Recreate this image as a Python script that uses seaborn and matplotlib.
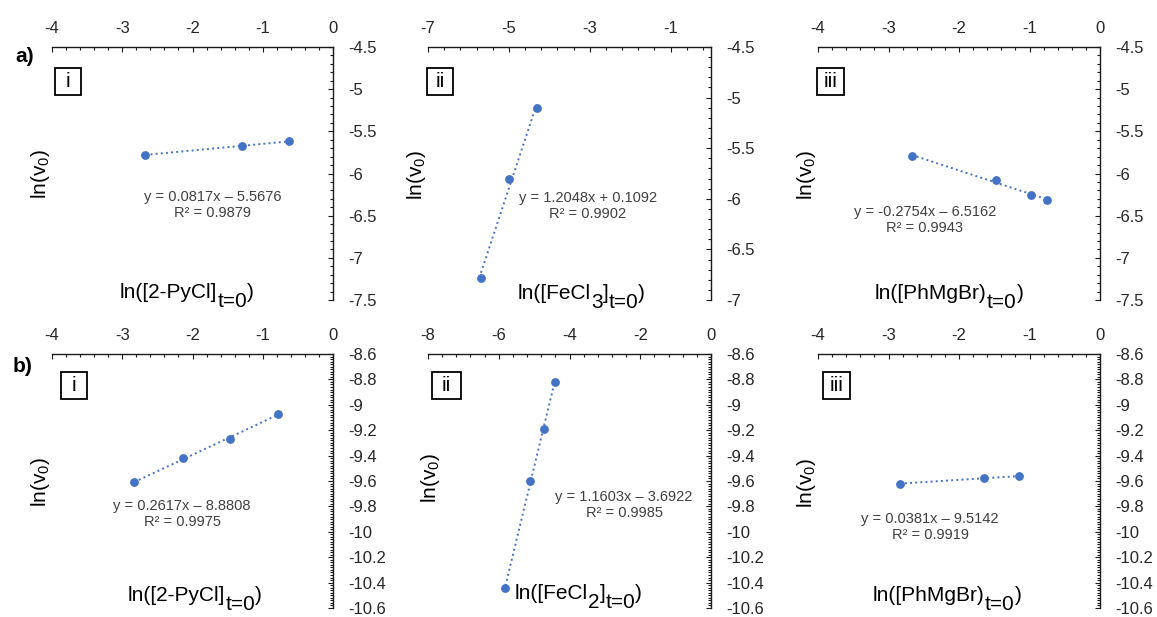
import numpy as np
import pandas as pd
import matplotlib
matplotlib.use("Agg")
import matplotlib.pyplot as plt
import seaborn as sns
from matplotlib.ticker import FixedLocator, FuncFormatter
from matplotlib.patches import Rectangle

# ---------------- data ----------------
a1_x = [-2.67, -1.30, -0.62]
a1_y = [-5.78, -5.67, -5.62]
a2_x = [-5.69, -5.00, -4.30]
a2_y = [-6.78, -5.80, -5.10]
a3_x = [-2.67, -1.47, -0.98, -0.75]
a3_y = [-5.79, -6.08, -6.25, -6.32]
b1_x = [-2.83, -2.14, -1.46, -0.78]
b1_y = [-9.61, -9.42, -9.27, -9.07]
b2_x = [-5.81, -5.13, -4.72, -4.42]
b2_y = [-10.44, -9.60, -9.19, -8.82]
b3_x = [-2.84, -1.64, -1.15]
b3_y = [-9.62, -9.58, -9.56]

equations = [
    ["y = 0.0817x \u2013 5.5676", "R\u00b2 = 0.9879"],
    ["y = 1.2048x + 0.1092", "R\u00b2 = 0.9902"],
    ["y = -0.2754x \u2013 6.5162", "R\u00b2 = 0.9943"],
    ["y = 0.2617x \u2013 8.8808", "R\u00b2 = 0.9975"],
    ["y = 1.1603x \u2013 3.6922", "R\u00b2 = 0.9985"],
    ["y = 0.0381x \u2013 9.5142", "R\u00b2 = 0.9919"],
]
roman = ["i", "ii", "iii", "i", "ii", "iii"]
row_labels = ["a)", "b)"]
ylabel_text = r"ln(v$_0$)"
xlabels = [
    [("ln([2-PyCl]", 0), ("t=0", 1), (")", 0)],
    [("ln([FeCl", 0), ("3", 1), ("]", 0), ("t=0", 1), (")", 0)],
    [("ln([PhMgBr)", 0), ("t=0", 1), (")", 0)],
    [("ln([2-PyCl]", 0), ("t=0", 1), (")", 0)],
    [("ln([FeCl", 0), ("2", 1), ("]", 0), ("t=0", 1), (")", 0)],
    [("ln([PhMgBr)", 0), ("t=0", 1), (")", 0)],
]
# axis ranges and tick steps
xlims = [(-4, 0), (-7, 0), (-4, 0), (-4, 0), (-8, 0), (-4, 0)]
ylims = [(-7.5, -4.5), (-7, -4.5), (-7.5, -4.5),
         (-10.6, -8.6), (-10.6, -8.6), (-10.6, -8.6)]
xmajor = [1, 2, 1, 1, 2, 1]
ymajor = [0.5, 0.5, 0.5, 0.2, 0.2, 0.2]

xs = [a1_x, a2_x, a3_x, b1_x, b2_x, b3_x]
ys = [a1_y, a2_y, a3_y, b1_y, b2_y, b3_y]

# ---------------- layout (pixels) ----------------
W, H = 1157, 617
cols = [(52, 333), (428, 711), (818, 1100)]
rows = [(47, 300), (354, 608)]
boxes = [(55, 68, 81, 95), (427, 68, 453, 95), (817, 68, 844, 95),
         (61, 372, 87, 399), (432, 372, 461, 399), (823, 372, 850, 399)]
eq_pos = [(213, 197), (588, 198), (925, 212), (182, 506), (624, 497), (930, 519)]
ylab_pos = [(41, 174), (416, 175), (806, 175), (41, 482), (431, 478), (807, 483)]
xlab_pos = [(120, 298), (518, 299), (875, 299), (128, 601), (515, 599), (873, 601)]
row_lab_pos = [(25, 57), (23, 367)]

sns.set_style("white")
plt.rcParams["font.family"] = ["Liberation Sans", "DejaVu Sans"]
plt.rcParams["mathtext.default"] = "regular"
plt.rcParams["axes.unicode_minus"] = False

BLUE = "#4472C4"
DARK = "#262626"

fig = plt.figure(figsize=(W / 100, H / 100), dpi=100)
fig.patch.set_facecolor("white")

def fx(px):
    return px / W

def fy(py):
    return 1 - py / H

fmt = FuncFormatter(lambda v, p: "%g" % round(v, 4))

for i in range(6):
    r, c = divmod(i, 3)
    (l, rr), (t, b) = cols[c], rows[r]
    ax = fig.add_axes([fx(l), fy(b), (rr - l) / W, (b - t) / H])
    df = pd.DataFrame({"x": xs[i], "y": ys[i]})
    sns.regplot(data=df, x="x", y="y", ax=ax, ci=None, truncate=True,
                color=BLUE,
                scatter_kws={"s": 40, "linewidths": 0, "zorder": 3, "alpha": 1},
                line_kws={"ls": ":", "lw": 1.4})
    ax.set_xlim(*xlims[i])
    ax.set_ylim(*ylims[i])
    x0, x1 = xlims[i]
    y0, y1 = ylims[i]
    ax.xaxis.set_major_locator(FixedLocator(np.arange(x0, x1 + 1e-9, xmajor[i])))
    ax.xaxis.set_minor_locator(FixedLocator(np.arange(x0, x1 + 1e-9, xmajor[i] / 5)))
    ax.yaxis.set_major_locator(FixedLocator(np.arange(y1, y0 - 1e-9, -ymajor[i])))
    ystep = ymajor[i] / 5 if r == 0 else ymajor[i] / 10
    ax.yaxis.set_minor_locator(FixedLocator(np.arange(y1, y0 - 1e-9, -ystep)))
    ax.xaxis.set_major_formatter(fmt)
    ax.yaxis.set_major_formatter(fmt)
    ax.xaxis.tick_top()
    ax.yaxis.tick_right()
    for s in ["left", "bottom"]:
        ax.spines[s].set_visible(False)
    for s in ["top", "right"]:
        ax.spines[s].set_visible(True)
        ax.spines[s].set_color("#1a1a1a")
        ax.spines[s].set_linewidth(1.0)
    ax.tick_params(which="both", direction="in", color="#1a1a1a", width=0.8,
                   top=True, right=True, bottom=False, left=False)
    ax.tick_params(which="major", length=3.5, labelsize=12, labelcolor=DARK)
    ax.tick_params(axis="x", which="major", pad=8)
    ax.tick_params(axis="y", which="major", pad=11)
    ax.tick_params(which="minor", length=2.5)
    ax.set_xlabel("")
    ax.set_ylabel("")
    ax.patch.set_alpha(0)

    # boxed roman numeral
    bx0, by0, bx1, by1 = boxes[i]
    fig.patches.append(Rectangle((fx(bx0), fy(by1)), (bx1 - bx0) / W, (by1 - by0) / H,
                                 transform=fig.transFigure, fill=False,
                                 ec="black", lw=1.3))
    fig.text(fx((bx0 + bx1) / 2), fy((by0 + by1) / 2), roman[i], fontsize=15,
             ha="center", va="center", color="black")

    # equation
    ex, ey = eq_pos[i]
    fig.text(fx(ex), fy(ey), equations[i][0], fontsize=10.5, ha="center",
             va="center", color="#404040")
    fig.text(fx(ex), fy(ey + 16), equations[i][1], fontsize=10.5, ha="center",
             va="center", color="#404040")

    # y label
    lx, ly = ylab_pos[i]
    fig.text(fx(lx), fy(ly), ylabel_text, fontsize=15, rotation=90,
             ha="center", va="center", color="black")

renderer = fig.canvas.get_renderer()
for i in range(6):
    x, base = xlab_pos[i]
    for txt, sub in xlabels[i]:
        yb = base + (9 if sub else 0)
        t = fig.text(fx(x), fy(yb), txt, fontsize=15, ha="left",
                     va="baseline", color="black")
        x += t.get_window_extent(renderer).width

for lab, (px, py) in zip(row_labels, row_lab_pos):
    fig.text(fx(px), fy(py), lab, fontsize=15, fontweight="bold",
             ha="center", va="center", color="black")

fig.savefig("out.png", dpi=100, facecolor="white")
